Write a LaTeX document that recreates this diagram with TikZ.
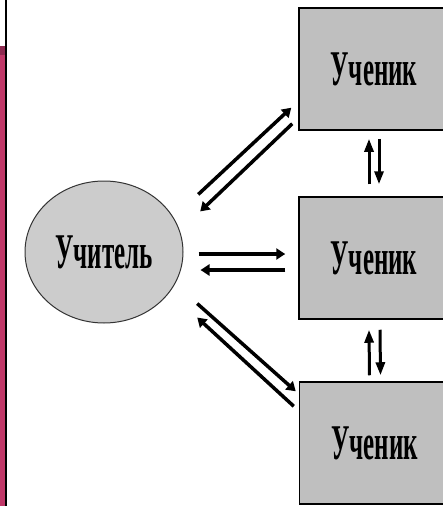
\documentclass[tikz,border=0pt]{standalone}
\usepackage{fontspec}
\setmainfont{Liberation Serif}
\usetikzlibrary{
		calc,
		positioning,
		arrows.meta,
		shapes.geometric
	}
\definecolor{barred}{RGB}{192,56,104}
\definecolor{bardark}{RGB}{142,42,80}
\newcommand{\narrowtext}[1]{\scalebox{0.5}[1]{#1}}
\tikzset{
		>={Triangle[length=9pt,width=11pt]},
		pupil/.style={draw=black, line width=1.5pt, fill=black!25, minimum width=150pt, minimum height=122pt, inner sep=0pt, font=\fontsize{50}{50}\selectfont\bfseries},
		master/.style={ellipse, draw=black!80, line width=1pt, fill=black!20, minimum width=158pt, minimum height=142pt, inner sep=0pt, font=\fontsize{50}{50}\selectfont\bfseries},
		link/.style={->, line width=3.5pt},
		vlink/.style={-{Triangle[length=13pt,width=9pt]}, line width=3pt}
	}
\begin{document}
\begin{tikzpicture}[x=1pt, y=-1pt]
		\useasboundingbox (0,0) rectangle (442,506);
		% frame at the left
		\fill[barred] (0,55) rectangle (5,506);
		\fill[bardark] (0,46) rectangle (5,55);
		\fill[black] (5,0) rectangle (7,506);
		% teacher and pupils
		\node[master] (teacher) at (104,252) {\narrowtext{Учитель}};
		\node[pupil] (s1) at (374,69) {\narrowtext{Ученик}};
		\node[pupil] (s2) at (374,258) {\narrowtext{Ученик}};
		\node[pupil] (s3) at (374.5,443) {\narrowtext{Ученик}};
		% teacher <-> pupils
		\draw[link] ([xshift=38pt,yshift=7pt]teacher.north east) -- ([xshift=-7pt,yshift=23pt]s1.south west);
		\draw[link] ([xshift=-6pt,yshift=7pt]s1.south west) -- ([xshift=40pt,yshift=-10pt]teacher.north east);
		\draw[link] ([xshift=15pt,yshift=-2pt]teacher.east) -- ([xshift=-13pt,yshift=4pt]s2.west);
		\draw[link] ([xshift=-13pt,yshift=-12pt]s2.west) -- ([xshift=17pt,yshift=-18pt]teacher.east);
		\draw[link] ([xshift=37pt,yshift=-1pt]teacher.south east) -- ([xshift=-3pt,yshift=-10pt]s3.north west);
		\draw[link] ([xshift=-5pt,yshift=-25pt]s3.north west) -- ([xshift=37pt,yshift=-15pt]teacher.south east);
		% pupil <-> pupil
		\draw[vlink] ([xshift=-5pt,yshift=12pt]s2.north) -- ([xshift=-5pt,yshift=-8pt]s1.south);
		\draw[vlink] ([xshift=5pt,yshift=-8pt]s1.south) -- ([xshift=5pt,yshift=12pt]s2.north);
		\draw[vlink] ([xshift=-5pt,yshift=6pt]s3.north) -- ([xshift=-5pt,yshift=-10pt]s2.south);
		\draw[vlink] ([xshift=6pt,yshift=-10pt]s2.south) -- ([xshift=6pt,yshift=6pt]s3.north);
	\end{tikzpicture}
\end{document}
